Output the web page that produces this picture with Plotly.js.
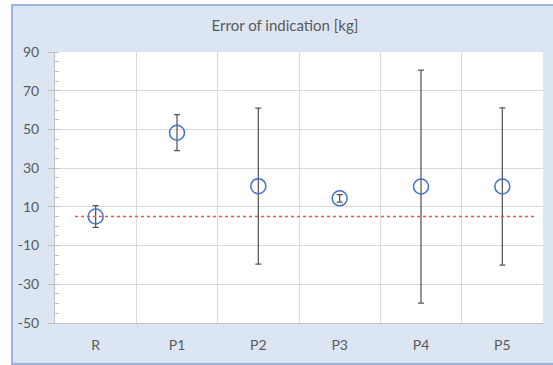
<!DOCTYPE html>
<html>
<head>
<meta charset="utf-8">
<script src="https://cdn.plot.ly/plotly-3.0.1.min.js"></script>
<style>html,body{margin:0;padding:0;background:#fff;}#chart{width:553px;height:365px;}</style>
</head>
<body>
<div id="chart"></div>
<script>
var categories = ["R", "P1", "P2", "P3", "P4", "P5"];
var values = [5, 48.3, 20.7, 14.4, 20.5, 20.5];
var errors = [5.6, 9.3, 40.3, 1.9, 60.2, 40.6];
var referenceValue = 5;
var yTickVals = [-50, -30, -10, 10, 30, 50, 70, 90];
var yTickText = ["-50", "-30", "-10", "10", "30", "50", "70", "90"];
var titleText = "Error of indication [kg]";

var fontFam = "Lato, 'Open Sans', sans-serif";

var trace = {
  type: "scatter",
  mode: "markers",
  x: categories,
  y: values,
  marker: {symbol: "circle-open", size: 15, color: "#4472C4", line: {width: 1.5, color: "#4472C4"}},
  error_y: {type: "data", array: errors, visible: true, color: "#555555", thickness: 1.25, width: 3},
  showlegend: false,
  hoverinfo: "x+y"
};

var layout = {
  width: 553, height: 365,
  margin: {l: 55, r: 10, t: 52, b: 42},
  paper_bgcolor: "#ffffff",
  plot_bgcolor: "rgba(0,0,0,0)",
  title: {text: titleText, x: 285/553, xanchor: "center", y: 1 - 26/365, yanchor: "middle",
          font: {family: fontFam, size: 15, color: "#595959"}},
  font: {family: fontFam, size: 14, color: "#595959"},
  xaxis: {
    type: "category",
    range: [-0.5, 5.5],
    tickson: "boundaries",
    ticks: "",
    showgrid: true, gridcolor: "#d9d9d9", gridwidth: 1,
    showline: true, linecolor: "#bfbfbf", linewidth: 1,
    tickfont: {family: fontFam, size: 14, color: "#595959"},
    ticklabelstandoff: 9,
    fixedrange: true
  },
  yaxis: {
    range: [-50, 90],
    tickvals: yTickVals,
    ticktext: yTickText,
    ticks: "outside", ticklen: 6, tickcolor: "#bfbfbf",
    showgrid: true, gridcolor: "#d9d9d9", gridwidth: 1,
    zeroline: false,
    showline: true, linecolor: "#bfbfbf", linewidth: 1,
    minor: {dtick: 5, tick0: -50, ticks: "inside", ticklen: 4, tickcolor: "#bfbfbf", showgrid: false},
    tickfont: {family: fontFam, size: 14, color: "#595959"},
    ticklabelstandoff: 6,
    fixedrange: true
  },
  shapes: [
    {type: "rect", layer: "below", xref: "paper", yref: "paper",
     x0: (12-55)/488, x1: (570-55)/488, y0: (323-364)/271, y1: (323-5)/271,
     fillcolor: "#dce6f2", line: {color: "#7fa1d6", width: 1.5}},
    {type: "rect", layer: "below", xref: "paper", yref: "paper",
     x0: 0, x1: 1, y0: 0, y1: 1, fillcolor: "#ffffff", line: {width: 0}},
    {type: "line", layer: "above", xref: "paper", yref: "y",
     x0: (75-55)/488, x1: (536-55)/488, y0: referenceValue, y1: referenceValue,
     line: {color: "#ff4b4b", width: 1.5, dash: "dot"}}
  ]
};

Plotly.newPlot("chart", [trace], layout, {staticPlot: true, displayModeBar: false});
</script>
</body>
</html>
